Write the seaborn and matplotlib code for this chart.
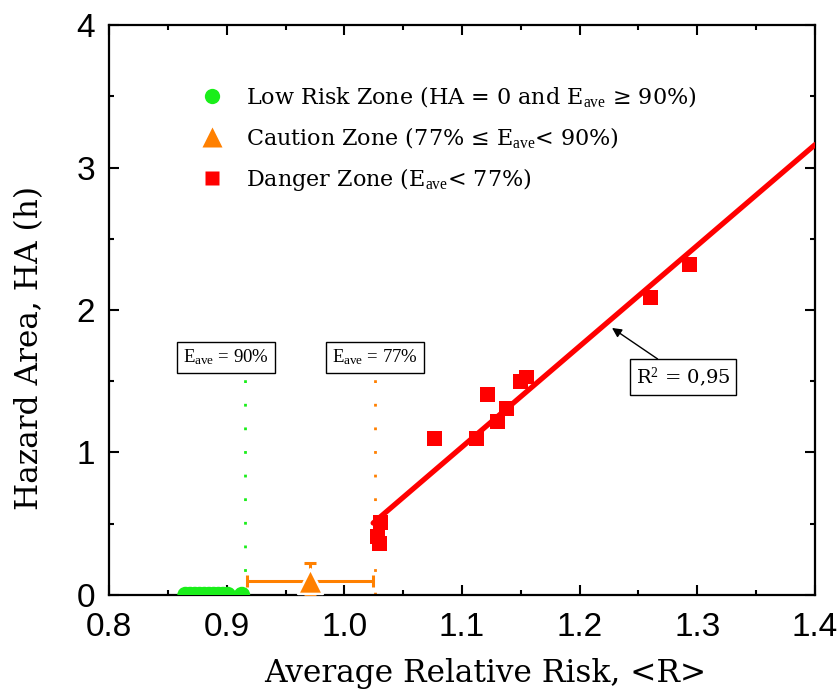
import matplotlib
matplotlib.use("Agg")
import matplotlib.pyplot as plt
import seaborn as sns
import numpy as np
import pandas as pd
from matplotlib.lines import Line2D

# ---------------- data ----------------
low_x = [0.865, 0.869, 0.873, 0.877, 0.881, 0.885, 0.889, 0.893, 0.897, 0.901, 0.913]
low_y = [0, 0, 0, 0, 0, 0, 0, 0, 0, 0, 0]

caution_x = [0.9705]
caution_y = [0.10]
caution_xerr = [0.0535]
caution_yerr_low = [0.10]
caution_yerr_high = [0.125]

danger_x = [1.031, 1.028, 1.030, 1.077, 1.112, 1.122, 1.130, 1.138, 1.150, 1.155, 1.260, 1.293]
danger_y = [0.51, 0.41, 0.36, 1.10, 1.10, 1.41, 1.22, 1.31, 1.50, 1.53, 2.09, 2.32]

fit_x = [1.0245, 1.40]
fit_y = [0.505, 3.16]

e90_x = [0.9155, 0.9155]
e77_x = [1.026, 1.026]
thr_y = [0.0, 1.54]

x_ticks = [0.8, 0.9, 1.0, 1.1, 1.2, 1.3, 1.4]
y_ticks = [0, 1, 2, 3, 4]

GREEN = "#1AEE1A"
ORANGE = "#FF8000"
RED = "#FF0000"

# ---------------- style ----------------
sns.set_theme(style="ticks")
plt.rcParams["font.family"] = ["DejaVu Serif"]
plt.rcParams["mathtext.fontset"] = "custom"
plt.rcParams["mathtext.rm"] = "Liberation Serif"
plt.rcParams["mathtext.it"] = "Liberation Serif:italic"
plt.rcParams["mathtext.bf"] = "Liberation Serif:bold"
plt.rcParams["text.color"] = "black"
plt.rcParams["axes.labelcolor"] = "black"
plt.rcParams["xtick.color"] = "black"
plt.rcParams["ytick.color"] = "black"
plt.rcParams["xtick.labelcolor"] = "black"
plt.rcParams["ytick.labelcolor"] = "black"

fig = plt.figure(figsize=(8.4, 6.95), dpi=100)
ax = fig.add_axes([0.1298, 0.1439, 0.8404, 0.8201])

# threshold dotted lines
sns.lineplot(x=e90_x, y=thr_y, ax=ax, color=GREEN, lw=2.0, linestyle=(0, (1, 7.5)),
             estimator=None, sort=False, zorder=2)
sns.lineplot(x=e77_x, y=thr_y, ax=ax, color=ORANGE, lw=2.0, linestyle=(0, (1, 7.5)),
             estimator=None, sort=False, zorder=2)

# fit line
sns.lineplot(x=fit_x, y=fit_y, ax=ax, color=RED, lw=3.8, estimator=None, sort=False,
             zorder=3)

# low risk points
sns.scatterplot(x=low_x, y=low_y, ax=ax, color=GREEN, marker="o", s=140,
                edgecolor="none", linewidth=0, zorder=4, clip_on=True)

# caution zone with error bars
ax.errorbar(caution_x, caution_y, xerr=caution_xerr,
            yerr=[caution_yerr_low, caution_yerr_high], fmt="none",
            ecolor=ORANGE, elinewidth=2.2, capsize=4, capthick=2.2, zorder=4)
sns.scatterplot(x=caution_x, y=caution_y, ax=ax, color=ORANGE, marker="^", s=320,
                edgecolor="white", linewidth=1.8, zorder=5)

# danger zone points
sns.scatterplot(x=danger_x, y=danger_y, ax=ax, color=RED, marker="s", s=115,
                edgecolor="none", linewidth=0, zorder=5)

# ---------------- axes ----------------
ax.set_xlim(0.8, 1.4)
ax.set_ylim(0, 4)
ax.set_xticks(x_ticks)
ax.set_yticks(y_ticks)
ax.set_xticklabels([f"{v:.1f}" for v in x_ticks])
ax.set_yticklabels([str(v) for v in y_ticks])
ax.set_xticks(np.arange(0.85, 1.4, 0.1), minor=True)
ax.set_yticks(np.arange(0.5, 4.0, 1.0), minor=True)
ax.tick_params(which="both", direction="in", top=True, right=True, width=1.5,
               color="black")
ax.tick_params(which="major", length=7)
ax.tick_params(which="minor", length=3.5)
ax.tick_params(axis="x", which="major", pad=12)
ax.tick_params(axis="y", which="major", pad=10)
for lab in ax.get_xticklabels() + ax.get_yticklabels():
    lab.set_fontfamily(["Liberation Sans", "DejaVu Sans"])
    lab.set_fontsize(24)
    lab.set_color("black")
for sp in ax.spines.values():
    sp.set_visible(True)
    sp.set_linewidth(1.6)
    sp.set_color("black")

ax.set_xlabel("Average Relative Risk, <R>", fontsize=22.5, color="black")
ax.set_ylabel("Hazard Area, HA (h)", fontsize=22.5, color="black")
ax.xaxis.set_label_coords(0.533, -0.11)
ax.yaxis.set_label_coords(-0.09, 0.433)

# ---------------- legend ----------------
handles = [
    Line2D([], [], ls="none", marker="o", color=GREEN, markersize=11, mec="none"),
    Line2D([], [], ls="none", marker="^", color=ORANGE, markersize=15, mec="none"),
    Line2D([], [], ls="none", marker="s", color=RED, markersize=9.5, mec="none"),
]
labels = [
    r"Low Risk Zone (HA = 0 and E$_{\mathrm{ave}}$ ≥ 90%)",
    r"Caution Zone (77% ≤ E$_{\mathrm{ave}}$< 90%)",
    r"Danger Zone (E$_{\mathrm{ave}}$< 77%)",
]
leg = ax.legend(handles, labels, loc="upper left", bbox_to_anchor=(0.115, 0.912),
                frameon=False, fontsize=16, handletextpad=0.9, labelspacing=0.72,
                borderaxespad=0, handlelength=1.2)
for t in leg.get_texts():
    t.set_color("black")

# ---------------- annotations ----------------
box = dict(boxstyle="square,pad=0.3", fc="white", ec="black", lw=1.0)
ser = ["Liberation Serif", "DejaVu Serif"]
ax.text(0.8994, 1.67, r"E$_{\mathrm{ave}}$ = 90%", ha="center", va="center",
        fontsize=13.5, family=ser, color="black", bbox=box, zorder=6)
ax.text(1.026, 1.67, r"E$_{\mathrm{ave}}$ = 77%", ha="center", va="center",
        fontsize=13.5, family=ser, color="black", bbox=box, zorder=6)
ax.annotate(r"R$^{2}$ = 0,95", xy=(1.2275, 1.874), xytext=(1.2878, 1.53),
            ha="center", va="center", fontsize=14, color="black", bbox=box, zorder=6,
            arrowprops=dict(arrowstyle="-|>", color="black", lw=1.0,
                            shrinkA=0, shrinkB=0, mutation_scale=14,
                            relpos=(0.33, 1.0)))

fig.savefig("out.png", dpi=100)
